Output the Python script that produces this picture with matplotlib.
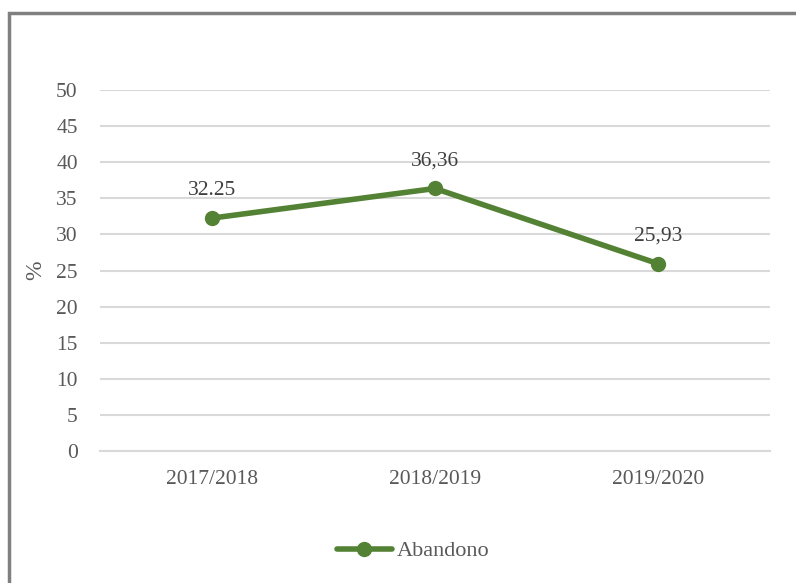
import matplotlib.pyplot as plt
from matplotlib.patches import Rectangle

years = ["2017/2018", "2018/2019", "2019/2020"]
abandono = [32.25, 36.36, 25.93]
labels = ["32.25", "36,36", "25,93"]
yticks = [0, 5, 10, 15, 20, 25, 30, 35, 40, 45, 50]

plt.rcParams['font.family'] = ['Liberation Serif', 'DejaVu Serif']
green = '#548235'
txt = '#404040'

fig = plt.figure(figsize=(7.96, 5.83), dpi=100)
ax = fig.add_axes([100 / 796, 1 - 451 / 583, 670 / 796, 361 / 583])

x = list(range(len(years)))
ax.plot(x, abandono, color=green, lw=4, marker='o', ms=10, solid_capstyle='round',
        label='Abandono', zorder=3)
for xi, v, t in zip(x, abandono, labels):
    ax.annotate(t, (xi, v), xytext=(0, 13), textcoords='offset points',
                ha='center', va='bottom', fontsize=15.5, color=txt)

ax.set_xlim(-0.5, 2.5)
ax.set_ylim(0, 50)
ax.set_yticks(yticks)
ax.set_xticks(x)
ax.set_xticklabels(years)
ax.yaxis.grid(True, color='#d9d9d9', lw=1.5)
ax.set_axisbelow(True)
for s in ['top', 'right', 'left']:
    ax.spines[s].set_visible(False)
ax.spines['bottom'].set_color('#d9d9d9')
ax.spines['bottom'].set_linewidth(1.5)
ax.tick_params(length=0, labelsize=15.5, colors='#595959')
ax.tick_params(axis='y', pad=16)
ax.tick_params(axis='x', pad=14)
ax.set_ylabel('%', fontsize=17, color='#595959', labelpad=7)

ax.legend(loc='center', bbox_to_anchor=(413 / 796, 1 - 551 / 583),
          bbox_transform=fig.transFigure, frameon=False, fontsize=16,
          handlelength=2.5, handletextpad=0.2, labelcolor='#595959')

fig.patches.append(Rectangle((9 / 796, -0.1), 1.1, 1 - 13 / 583 + 0.1,
                             transform=fig.transFigure, fill=False,
                             edgecolor='#808080', lw=2.5))

fig.savefig('out.png', dpi=100)
